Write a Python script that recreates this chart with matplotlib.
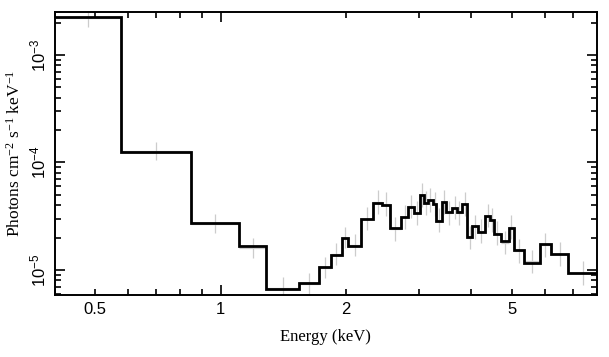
import matplotlib
matplotlib.use("Agg")
import matplotlib.pyplot as plt
import matplotlib.ticker as mticker
import numpy as np

# bin edges (keV) and model flux (photons cm^-2 s^-1 keV^-1)
edges = [0.40, 0.577, 0.850, 1.107, 1.288, 1.544, 1.725, 1.840, 1.953, 2.026,
         2.174, 2.323, 2.438, 2.544, 2.709, 2.821, 2.916, 3.015, 3.071, 3.147,
         3.228, 3.295, 3.401, 3.483, 3.595, 3.692, 3.796, 3.913, 4.016, 4.136,
         4.323, 4.433, 4.532, 4.699, 4.920, 5.058, 5.348, 5.833, 6.200, 6.840,
         8.0]
model = [2.26e-3, 1.25e-4, 2.75e-5, 1.67e-5, 6.6e-6, 7.6e-6, 1.07e-5, 1.37e-5,
         1.99e-5, 1.67e-5, 2.96e-5, 4.23e-5, 4.03e-5, 2.45e-5, 3.09e-5, 3.88e-5,
         3.37e-5, 4.99e-5, 4.20e-5, 4.48e-5, 4.11e-5, 2.86e-5, 4.32e-5, 3.44e-5,
         3.81e-5, 3.43e-5, 4.11e-5, 2.03e-5, 2.54e-5, 2.26e-5, 3.21e-5, 2.92e-5,
         2.16e-5, 1.84e-5, 2.46e-5, 1.535e-5, 1.17e-5, 1.73e-5, 1.40e-5, 9.4e-6]
# data points (grey crosses) and their half-errors in dex
data = [2.2e-3, 1.28e-4, 2.7e-5, 1.6e-5, 6.8e-6, 7.4e-6, 1.05e-5, 1.4e-5,
        2.0e-5, 1.7e-5, 3.0e-5, 4.3e-5, 4.1e-5, 2.4e-5, 3.1e-5, 3.9e-5,
        3.4e-5, 5.0e-5, 4.2e-5, 4.5e-5, 4.1e-5, 2.9e-5, 4.3e-5, 3.4e-5,
        3.8e-5, 3.4e-5, 4.1e-5, 2.0e-5, 2.5e-5, 2.3e-5, 3.2e-5, 2.9e-5,
        2.2e-5, 1.8e-5, 2.5e-5, 1.5e-5, 1.2e-5, 1.7e-5, 1.4e-5, 9.4e-6]
err_dex = [0.085, 0.085, 0.09, 0.09, 0.10, 0.10, 0.10, 0.10, 0.10, 0.10,
           0.11, 0.11, 0.11, 0.11, 0.11, 0.11, 0.11, 0.11, 0.11, 0.11,
           0.11, 0.11, 0.11, 0.11, 0.11, 0.11, 0.11, 0.11, 0.11, 0.11,
           0.11, 0.11, 0.11, 0.11, 0.11, 0.11, 0.11, 0.11, 0.11, 0.11]

plt.rcParams['font.family'] = 'Liberation Sans'
plt.rcParams['mathtext.default'] = 'regular'

fig = plt.figure(figsize=(6.09, 3.57), dpi=100)
ax = fig.add_axes([0.0903, 0.1737, 0.8897, 0.7927])

e = np.array(edges)
centers = np.sqrt(e[:-1] * e[1:])
d = np.array(data)
err = np.array(err_dex)
ylo = d - d / 10**err
yhi = d * 10**err - d
ax.errorbar(centers, d, xerr=[centers - e[:-1], e[1:] - centers], yerr=[ylo, yhi],
            fmt='none', ecolor='#cccccc', elinewidth=0.9, zorder=1)
ax.stairs(model, edges, baseline=None, color='black', linewidth=2.0, zorder=2)

ax.set_xscale('log')
ax.set_yscale('log')
ax.set_xlim(0.4, 8.0)
ax.set_ylim(5.85e-6, 2.51e-3)

ax.xaxis.set_major_locator(mticker.FixedLocator([1]))
ax.xaxis.set_minor_locator(mticker.FixedLocator([0.4, 0.5, 0.6, 0.7, 0.8, 0.9, 2, 3, 4, 5, 6, 7, 8]))
xlab = {0.5: '0.5', 1: '1', 2: '2', 5: '5'}
fmt = mticker.FuncFormatter(lambda v, p: xlab.get(round(v, 2), ''))
ax.xaxis.set_major_formatter(fmt)
ax.xaxis.set_minor_formatter(fmt)

ax.tick_params(which='both', direction='in', top=True, right=True, width=1.2)
ax.tick_params(which='major', length=7, labelsize=12, pad=5)
ax.tick_params(which='minor', length=4, labelsize=12, pad=5)
for lbl in ax.get_yticklabels():
    lbl.set_rotation(90)
    lbl.set_va('center')
for sp in ax.spines.values():
    sp.set_linewidth(1.4)

ax.set_xlabel('Energy (keV)', family='Liberation Serif', fontsize=12, labelpad=9)
ax.set_ylabel(r'Photons cm$^{-2}$ s$^{-1}$ keV$^{-1}$', family='Liberation Serif',
              fontsize=12.5, labelpad=3)

fig.savefig('out.png', dpi=100)
